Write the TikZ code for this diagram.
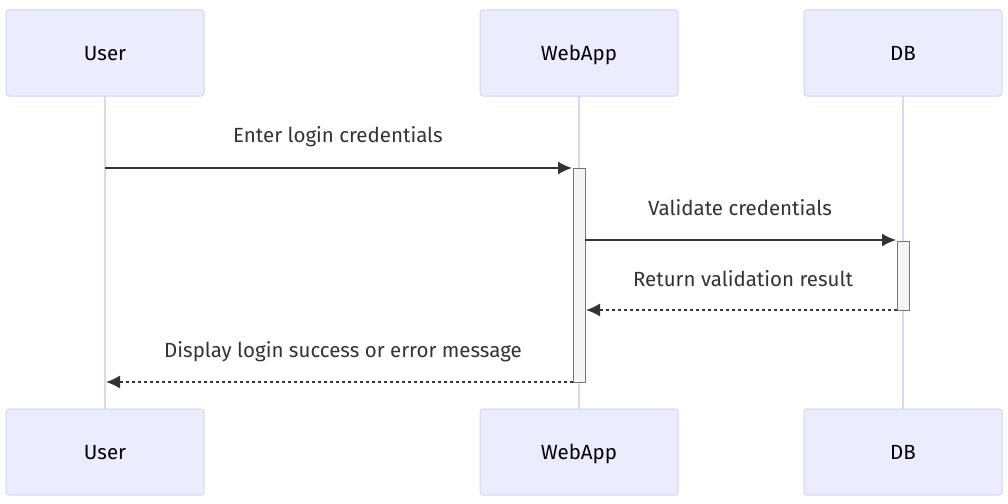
\documentclass[tikz,border=0pt]{standalone}
\usepackage{fontspec}
\setmainfont{Fira Sans}
\usetikzlibrary{arrows.meta}
\definecolor{actfill}{HTML}{ECECFF}
\definecolor{actborder}{HTML}{D9D0F5}
\definecolor{lifeline}{HTML}{DDD5F7}
\definecolor{msgline}{HTML}{333333}
\definecolor{actvfill}{HTML}{F4F4F4}
\definecolor{actvborder}{HTML}{777777}
\tikzset{
  actor/.style={draw=actborder, fill=actfill, line width=1pt, rounded corners=3pt, minimum width=198pt, minimum height=86pt, font=\fontsize{20.5}{24}\selectfont, text=black, inner sep=0pt, text height=19pt, text depth=4pt},
  life/.style={draw=lifeline, line width=2pt},
  activation/.style={draw=actvborder, fill=actvfill, line width=1pt},
  msg/.style={draw=msgline, line width=1.5pt, -{Latex[length=14pt,width=13pt]}},
  reply/.style={msg, dash pattern=on 3pt off 3pt},
  lbl/.style={font=\fontsize{20.5}{24}\selectfont, text=msgline, inner sep=0pt}
}
\begin{document}
\begin{tikzpicture}[x=1pt,y=-1pt]
\useasboundingbox[fill=white] (0,0) rectangle (1008,503);
% lifelines
\draw[life] (105,96) -- (105,409);
\draw[life] (579,96) -- (579,409);
\draw[life] (903,96) -- (903,409);
% actors
\node[actor] (u1) at (105,53) {User};
\node[actor] (w1) at (579,53) {WebApp};
\node[actor] (d1) at (903,53) {DB};
\node[actor] (u2) at (105,452) {User};
\node[actor] (w2) at (579,452) {WebApp};
\node[actor] (d2) at (903,452) {DB};
% activations
\draw[activation] (573,168) rectangle (585,382);
\draw[activation] (897,241) rectangle (909,310);
% coordinates
\coordinate (m1s) at (105,168);
\coordinate (m1e) at (572,168);
\coordinate (m2s) at (585,240);
\coordinate (m2e) at (896,240);
\coordinate (m3s) at (897,310);
\coordinate (m3e) at (586,310);
\coordinate (m4s) at (573,382);
\coordinate (m4e) at (106,382);
% messages
\draw[msg] (m1s) -- (m1e);
\draw[msg] (m2s) -- (m2e);
\draw[reply] (m3s) -- (m3e);
\draw[reply] (m4s) -- (m4e);
% labels
\node[lbl] (l1) at (338,137) {Enter login credentials};
\node[lbl] (l2) at (740,208) {Validate credentials};
\node[lbl] (l3) at (743,279) {Return validation result};
\node[lbl] (l4) at (343,352) {Display login success or error message};
\end{tikzpicture}
\end{document}
